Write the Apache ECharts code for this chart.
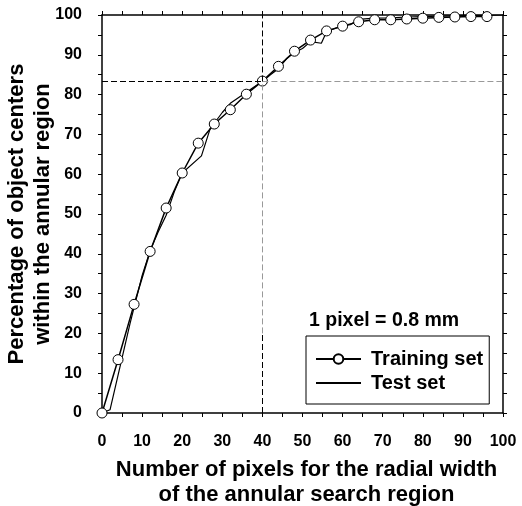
<!DOCTYPE html>
<html>
<head>
<meta charset="utf-8">
<script src="https://cdn.jsdelivr.net/npm/echarts@6/dist/echarts.min.js"></script>
<style>
  html, body { margin: 0; padding: 0; background: #fff; }
  #chart { width: 522px; height: 506px; }
</style>
</head>
<body>
<div id="chart"></div>
<script>
// Radial width of the annular search region (pixels) and cumulative percentage
const trainX = [0, 4, 8, 12, 16, 20, 24, 28, 32, 36, 40, 44, 48, 52, 56, 60, 64, 68, 72, 76, 80, 84, 88, 92, 96];
const trainY = [0, 13.4, 27.3, 40.6, 51.5, 60.3, 67.8, 72.6, 76.2, 80.1, 83.4, 87.1, 90.9, 93.7, 96.0, 97.2, 98.3, 98.8, 98.8, 99.0, 99.2, 99.4, 99.5, 99.6, 99.6];

const testX = [0, 2, 7, 10, 12, 14, 16, 18, 20, 24.8, 27, 28, 30, 32, 34, 36, 38, 40, 42, 44, 46, 48, 50, 52, 54.7, 56, 58, 60, 62, 64, 68, 72, 76, 80, 84, 88, 92, 96, 100];
const testY = [0, 0.8, 22.5, 34.5, 40.8, 45.5, 49.7, 55.5, 60.3, 64.6, 71.5, 72.8, 75.5, 77.8, 79.2, 80.6, 82.0, 83.3, 85.0, 86.5, 89.0, 90.6, 91.6, 93.3, 92.9, 95.8, 96.6, 97.3, 97.6, 98.9, 99.2, 99.3, 99.5, 99.6, 99.7, 99.8, 99.9, 99.9, 100];

const xTicks = [0, 10, 20, 30, 40, 50, 60, 70, 80, 90, 100];
const yTicks = [0, 10, 20, 30, 40, 50, 60, 70, 80, 90, 100];

// Reference lines: 40 pixels covers 83.3 % of object centers
const refX = 40;
const refY = 83.3;

const FONT = '"Liberation Sans", Arial, Helvetica, sans-serif';

const pairs = (xs, ys) => xs.map((x, i) => [x, ys[i]]);

const tickLabel = {
  fontFamily: FONT, fontSize: 16, fontWeight: 'bold', color: '#000'
};

function frameAxis(extra) {
  return Object.assign({
    type: 'value', min: 0, max: 100, interval: 10,
    axisLine: { show: true, onZero: false, lineStyle: { color: '#000', width: 1.5 } },
    axisTick: { show: true, length: 4, lineStyle: { color: '#000', width: 1 } },
    minorTick: { show: true, splitNumber: 2, length: 4, lineStyle: { color: '#000', width: 1 } },
    splitLine: { show: false },
    axisLabel: { show: false }
  }, extra);
}

const chart = echarts.init(document.getElementById('chart'), null, { renderer: 'canvas' });

chart.setOption({
  backgroundColor: '#fff',
  animation: false,
  grid: { left: 102, right: 19, top: 15, bottom: 93, containLabel: false, outerBoundsMode: 'none' },
  xAxis: [
    frameAxis({
      position: 'bottom',
      axisLabel: Object.assign({ show: true, margin: 21, formatter: v => xTicks.includes(v) ? String(v) : '' }, tickLabel),
      name: 'Number of pixels for the radial width\nof the annular search region',
      nameLocation: 'middle',
      nameGap: 44,
      nameMoveOverlap: false,
      nameTextStyle: { fontFamily: FONT, fontSize: 22, fontWeight: 'bold', color: '#000', lineHeight: 25, padding: [0, 0, 0, 8] }
    }),
    frameAxis({ position: 'top' })
  ],
  yAxis: [
    frameAxis({
      position: 'left',
      axisLabel: Object.assign({ show: true, margin: 20, formatter: v => yTicks.includes(v) ? String(v) : '' }, tickLabel),
      name: 'Percentage of object centers\nwithin the annular region',
      nameLocation: 'middle',
      nameGap: 46,
      nameMoveOverlap: false,
      nameTextStyle: { fontFamily: FONT, fontSize: 22, fontWeight: 'bold', color: '#000', lineHeight: 26 }
    }),
    frameAxis({ position: 'right' })
  ],
  legend: {
    data: [
      { name: 'Training set' },
      { name: 'Test set', itemStyle: { color: 'rgba(0,0,0,0)', borderColor: 'rgba(0,0,0,0)', borderWidth: 0 } }
    ],
    orient: 'vertical',
    left: 306,
    top: 336,
    backgroundColor: '#fff',
    borderColor: '#000',
    borderWidth: 1,
    borderRadius: 0,
    padding: [13, 6, 11, 9],
    itemWidth: 45,
    itemHeight: 12,
    itemGap: 4,
    textStyle: { fontFamily: FONT, fontSize: 20, fontWeight: 'bold', color: '#000', padding: [0, 0, 0, 5] }
  },
  graphic: [{
    type: 'text',
    left: 309,
    top: 311,
    style: { text: '1 pixel = 0.8 mm', font: 'bold 19.5px ' + FONT, fill: '#000' }
  }],
  series: [
    {
      name: 'Test set',
      type: 'line',
      data: pairs(testX, testY),
      symbol: 'none',
      lineStyle: { color: '#000', width: 1.2 },
      itemStyle: { color: '#000' },
      z: 3,
      markLine: {
        silent: true,
        symbol: 'none',
        label: { show: false },
        lineStyle: { type: [6, 3], width: 1, color: '#000' },
        data: [
          [{ coord: [0, refY] }, { coord: [refX, refY] }],
          [{ coord: [refX, refY], lineStyle: { color: '#999' } }, { coord: [100, refY] }],
          [{ coord: [refX, refY] }, { coord: [refX, 100] }],
          [{ coord: [refX, 20], lineStyle: { color: '#999' } }, { coord: [refX, refY] }],
          [{ coord: [refX, 0] }, { coord: [refX, 20] }]
        ]
      }
    },
    {
      name: 'Training set',
      type: 'line',
      data: pairs(trainX, trainY),
      symbol: 'circle',
      symbolSize: 10,
      showAllSymbol: true,
      lineStyle: { color: '#000', width: 1.5 },
      itemStyle: { color: '#fff', borderColor: '#000', borderWidth: 1 },
      z: 4
    }
  ]
});
</script>
</body>
</html>
